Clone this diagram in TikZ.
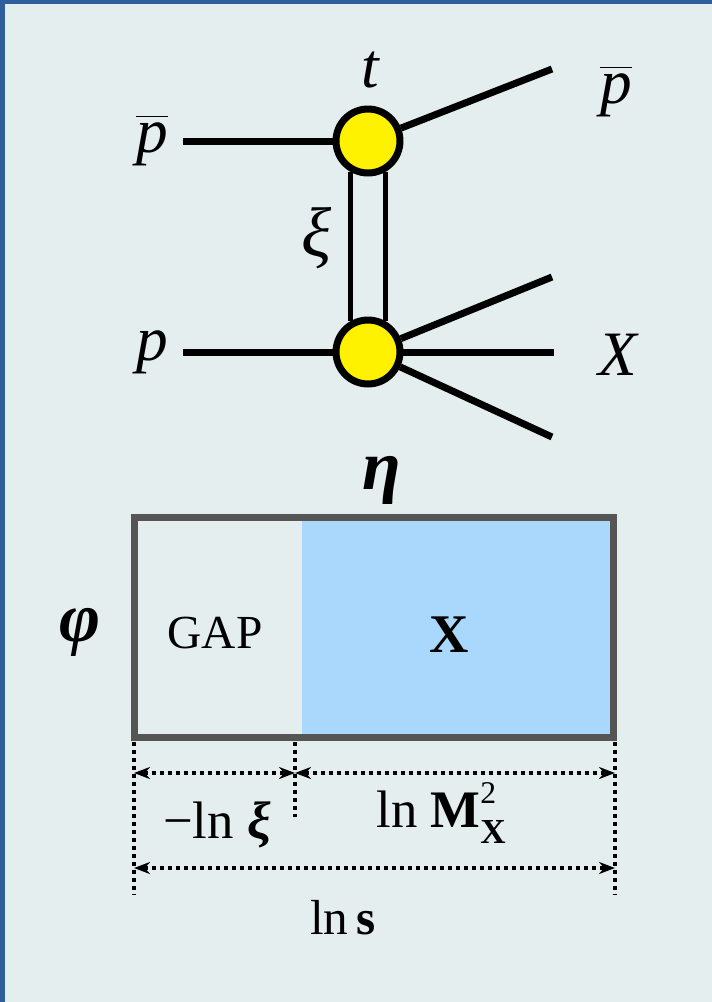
\documentclass[tikz,border=0pt]{standalone}
\usepackage{fontspec}
\setmainfont{Liberation Serif}
\usepackage{amsmath}
\usetikzlibrary{arrows.meta, positioning}
\definecolor{panelbg}{HTML}{E4EEEF}
\definecolor{panelblue}{HTML}{2F5E9C}
\definecolor{xblue}{HTML}{A9D8FC}
\definecolor{boxgray}{HTML}{555555}
\tikzset{
	vertexnode/.style={
			circle,
			draw=black,
			line width=0.14cm,
			fill=yellow,
			minimum size=1.28cm,
			inner sep=0pt
		},
	legline/.style={
			line width=0.14cm
		},
	pomline/.style={
			line width=0.1cm
		},
	lbl/.style={
			font=\fontsize{36}{40}\selectfont\itshape,
			inner sep=0pt
		},
	raplbl/.style={
			font=\fontsize{40}{44}\selectfont\bfseries\itshape,
			inner sep=0pt
		},
	rapbox/.style={
			draw=boxgray,
			line width=0.14cm,
			minimum width=9.6cm,
			minimum height=4.42cm,
			inner sep=0pt
		},
	dimtext/.style={
			font=\fontsize{30}{34}\selectfont,
			inner sep=0pt
		},
	extline/.style={
			line width=0.07cm,
			dash pattern=on 0.08cm off 0.08cm
		},
	dimline/.style={
			extline,
			{Stealth[length=0.32cm,width=0.24cm]}-{Stealth[length=0.32cm,width=0.24cm]}
		}
}

\begin{document}
\begin{tikzpicture}[x=0.02cm, y=-0.02cm]
% panel
\useasboundingbox (0,0) rectangle (712,1002);
\fill[panelbg] (0,0) rectangle (712,1002);
\fill[panelblue] (0,0) rectangle (712,4);
\fill[panelblue] (0,0) rectangle (5,1002);

% scattering diagram
\node[vertexnode] (vT) at (368,141) {};
\node[vertexnode] (vB) at (368,352) {};
\coordinate (pbarIn) at (183,141);
\coordinate (pIn) at (183,352);
\coordinate (pbarOut) at (552,69);
\coordinate (xUp) at (552,277);
\coordinate (xMid) at (554,352);
\coordinate (xDown) at (552,437);

\draw[legline] (pbarIn) -- (vT);
\draw[legline] (pIn) -- (vB);
\draw[legline] (vT) -- (pbarOut);
\draw[legline] (vB) -- (xUp);
\draw[legline] (vB) -- (xMid);
\draw[legline] (vB) -- (xDown);
\draw[pomline] (vT.240) -- (vB.120);
\draw[pomline] (vT.300) -- (vB.60);

\node[lbl] (tT) at (370,70) {t};
\node[lbl] (tPbarL) at (152,140) {$\overline{\text{p}}$};
\node[lbl] (tPL) at (152,352) {p};
\node[lbl, font=\fontsize{40}{44}\selectfont\itshape] (tXi) at (317,238) {ξ};
\node[lbl] (tPbarR) at (616,91) {$\overline{\text{p}}$};
\node[lbl] (tXR) at (618,355) {X};

% eta-phi plane
\fill[xblue] (302,517) rectangle (614,738);
\node[rapbox] (rap) at (374,627.5) {};
\node[font=\fontsize{27}{30}\selectfont, inner sep=0pt] (tGap) at (215,633) {GAP};
\node[font=\fontsize{31}{34}\selectfont\bfseries, inner sep=0pt] (tX) at (449,635) {X};
\node[raplbl] (tEta) at (382,480) {η};
\node[raplbl] (tPhi) at (80,632) {φ};

% dimensions
\coordinate (e1T) at (134,742);
\coordinate (e1B) at (134,895);
\coordinate (e2T) at (295,742);
\coordinate (e2B) at (295,817);
\coordinate (e3T) at (615,742);
\coordinate (e3B) at (615,895);
\coordinate (a1) at (134,773);
\coordinate (a2) at (295,773);
\coordinate (a3) at (615,773);
\coordinate (b1) at (134,868);
\coordinate (b2) at (615,868);

\draw[extline] (e1T) -- (e1B);
\draw[extline] (e2T) -- (e2B);
\draw[extline] (e3T) -- (e3B);
\draw[dimline] (a1) -- (a2);
\draw[dimline] (a2) -- (a3);
\draw[dimline] (b1) -- (b2);

\node[dimtext] (tLnXi) at (217,825) {−ln \textbf{\textit{ξ}}};
\node[dimtext] (tLnM) at (441,813) {ln \textbf{M}\rlap{\raisebox{0.45em}{\fontsize{18}{20}\selectfont 2}}\raisebox{-0.3em}{\fontsize{20}{22}\selectfont\bfseries X}};
\node[dimtext, font=\fontsize{28}{32}\selectfont] (tLnS) at (343,918) {ln\,\textbf{s}};

\end{tikzpicture}
\end{document}
